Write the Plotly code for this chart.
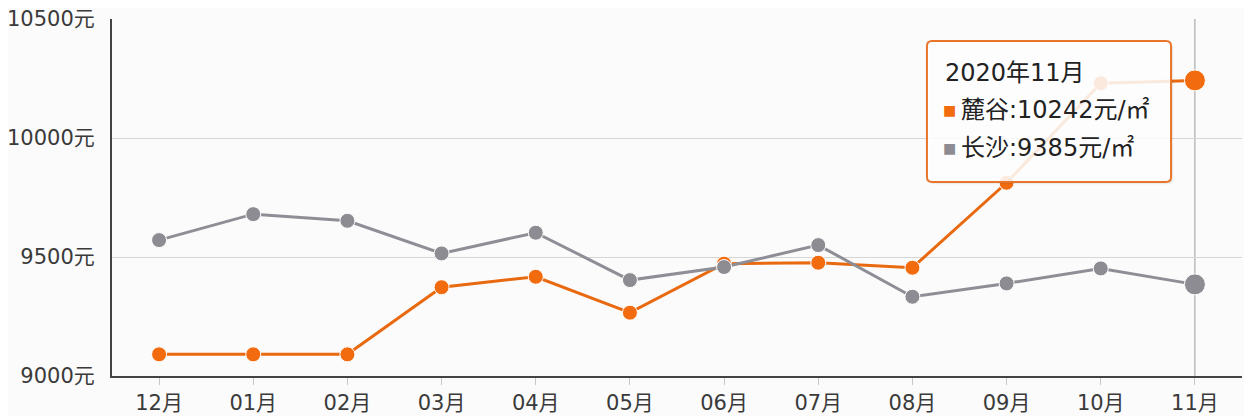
import plotly.graph_objects as go

# Data
months = ["12月", "01月", "02月", "03月", "04月", "05月", "06月", "07月", "08月", "09月", "10月", "11月"]
lugu = [9091, 9091, 9091, 9373, 9417, 9266, 9472, 9476, 9455, 9812, 10230, 10242]
changsha = [9571, 9680, 9652, 9515, 9602, 9403, 9458, 9550, 9333, 9389, 9452, 9385]
y_ticks = [9000, 9500, 10000, 10500]
y_labels = [f"{v}元" for v in y_ticks]

orange = "#f26b0f"
gray = "#8c8c92"
font_family = "DejaVu Sans, Noto Sans CJK SC, sans-serif"
text_color = "#3a3a3a"

# last point is the hovered one -> bigger marker
sizes = [15] * (len(months) - 1) + [21]

fig = go.Figure()

fig.add_trace(go.Scatter(
    x=months, y=lugu, mode="lines+markers", name="麓谷",
    line=dict(color="#e8690f", width=3),
    marker=dict(color=orange, size=sizes, opacity=1, line=dict(color="white", width=1)),
    cliponaxis=False,
))
fig.add_trace(go.Scatter(
    x=months, y=changsha, mode="lines+markers", name="长沙",
    line=dict(color="#8e8f96", width=3),
    marker=dict(color=gray, size=sizes, opacity=1, line=dict(color="white", width=1)),
    cliponaxis=False,
))

# crosshair at hovered month
fig.add_shape(type="line", xref="x", yref="paper", x0=months[-1], x1=months[-1], y0=0, y1=1.0,
              line=dict(color="#9a9a9a", width=1), layer="below")


def rounded_rect(x0, x1, y0, y1, rx=0.0045, ry=0.014):
    return (f"M {x0 + rx},{y0} L {x1 - rx},{y0} Q {x1},{y0} {x1},{y0 + ry} "
            f"L {x1},{y1 - ry} Q {x1},{y1} {x1 - rx},{y1} "
            f"L {x0 + rx},{y1} Q {x0},{y1} {x0},{y1 - ry} "
            f"L {x0},{y0 + ry} Q {x0},{y0} {x0 + rx},{y0} Z")


# tooltip box (soft shadow + box)
fig.add_shape(type="path", xref="paper", yref="paper", path=rounded_rect(0.7232, 0.9392, 0.537, 0.932),
              line=dict(width=0), fillcolor="rgba(0,0,0,0.06)", layer="above")
fig.add_shape(type="path", xref="paper", yref="paper", path=rounded_rect(0.7212, 0.9372, 0.5434, 0.9384),
              line=dict(color="#e8762a", width=2), fillcolor="rgba(255,255,255,0.86)", layer="above")

fig.add_annotation(xref="paper", yref="paper", x=0.7354, y=0.8487, xanchor="left", yanchor="middle",
                   text="2020年11月", showarrow=False, font=dict(size=24, color="#222", family=font_family))
fig.add_annotation(xref="paper", yref="paper", x=0.7336, y=0.745, xanchor="left", yanchor="middle",
                   text="■", showarrow=False, font=dict(size=14, color=orange, family=font_family))
fig.add_annotation(xref="paper", yref="paper", x=0.7496, y=0.745, xanchor="left", yanchor="middle",
                   text=f"麓谷:{lugu[-1]}元/㎡", showarrow=False,
                   font=dict(size=24, color="#222", family=font_family))
fig.add_annotation(xref="paper", yref="paper", x=0.7336, y=0.6387, xanchor="left", yanchor="middle",
                   text="■", showarrow=False, font=dict(size=14, color=gray, family=font_family))
fig.add_annotation(xref="paper", yref="paper", x=0.7496, y=0.6387, xanchor="left", yanchor="middle",
                   text=f"长沙:{changsha[-1]}元/㎡", showarrow=False,
                   font=dict(size=24, color="#222", family=font_family))

# page body adds an 8px offset, so the figure is 8px smaller and margins shifted
fig.update_layout(
    width=1244, height=408,
    margin=dict(l=104, r=10, t=11, b=40),
    paper_bgcolor="#fbfbfb", plot_bgcolor="#fbfbfb",
    showlegend=False,
    font=dict(family=font_family, size=21, color=text_color),
)

fig.update_xaxes(
    type="category", range=[-0.5, len(months) - 0.5], automargin=False,
    showgrid=False, showline=True, linecolor="#444", linewidth=2,
    ticks="outside", ticklen=7, tickcolor="#c8c8c8", tickwidth=1,
    tickfont=dict(size=21, color=text_color),
)
fig.update_yaxes(
    range=[9000, 10500], tickvals=y_ticks, ticktext=y_labels, automargin=False,
    showgrid=True, gridcolor="#d6d6d6", gridwidth=1,
    showline=True, linecolor="#444", linewidth=2, zeroline=False,
    ticks="", ticklabelstandoff=11, ticklabeloverflow="allow",
    tickfont=dict(size=21, color=text_color),
)

fig.write_html("out.html")
